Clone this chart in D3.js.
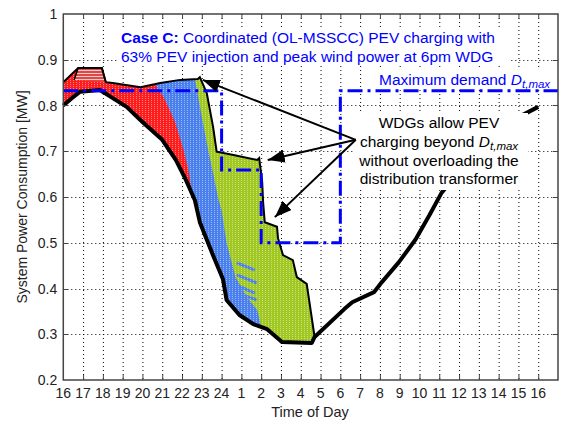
<!DOCTYPE html>
<html>
<head>
<meta charset="utf-8">
<script src="https://cdn.jsdelivr.net/npm/d3@7"></script>
<style>
  body { margin:0; background:#fff; }
  svg { display:block; font-family:"Liberation Sans", Arial, sans-serif; }
</style>
</head>
<body>
<div id="view"></div>
<script>
// hour index 0..24 -> clock label
var hourLabels = [16,17,18,19,20,21,22,23,24,1,2,3,4,5,6,7,8,9,10,11,12,13,14,15,16];
var mwTicks = [0.2,0.3,0.4,0.5,0.6,0.7,0.8,0.9,1];

// base load (no PEV), [hour, MW]
var baseLoad = [[0,0.800],[0.4,0.815],[0.85,0.830],[1.85,0.834],[2.36,0.820],[3.2,0.797],[4.0,0.764],
  [5.0,0.725],[5.7,0.680],[6.2,0.637],[6.65,0.593],[6.9,0.545],[7.56,0.473],[8.07,0.420],[8.25,0.375],
  [8.9,0.342],[9.6,0.322],[10.3,0.311],[10.95,0.287],[11.05,0.283],[12.56,0.281],[12.7,0.294],
  [14.2,0.355],[14.6,0.370],[15.7,0.392],[16.1,0.414],[16.95,0.457],[17.8,0.507],[18.5,0.560],
  [19.1,0.608],[20,0.655],[21,0.700],[22,0.740],[23.2,0.779],[24,0.797]];

// total load incl. PEV charging (upper envelope)
var totalLoad = [[0,0.851],[0.75,0.882],[1.95,0.882],[2.15,0.851],[2.5,0.849],[3.9,0.840],[4.9,0.849],
  [5.9,0.856],[6.8,0.858],[6.9,0.862],[7.25,0.827],[7.57,0.753],[7.75,0.699],[8.6,0.692],[9.8,0.681],
  [9.9,0.685],[10.05,0.633],[10.1,0.587],[10.18,0.545],[10.8,0.535],[10.85,0.510],[11.1,0.473],
  [11.6,0.462],[11.8,0.425],[12.3,0.410],[12.7,0.294]];

// low-priority top block (hours 16:45-18:00)
var hatBlock = [[0.55,0.856],[0.75,0.882],[1.95,0.882],[2.15,0.851]];

// right edge of red (high priority) and blue (medium priority) charging
var redEdge = [[4.6,0.849],[5.1,0.816],[5.65,0.764],[6.05,0.707],[6.3,0.663],[6.45,0.625]];
var blueEdge = [[6.65,0.858],[6.8,0.823],[7.05,0.764],[7.3,0.707],[7.57,0.652],[7.85,0.593],
  [8.0,0.571],[8.25,0.500],[8.7,0.425],[9.3,0.380],[9.8,0.353],[10.0,0.316]];
// blue charging streaks inside the green block
var blueStreaks = [
  [[8.77,0.456],[9.68,0.440]],
  [[8.77,0.430],[9.78,0.412]],
  [[8.52,0.412],[9.68,0.390]],
  [[8.77,0.390],[9.78,0.375]]
];

// maximum demand D_t,max (step)
var dMax = [[0,0.832],[8,0.832],[8,0.659],[10,0.659],[10,0.5],[14,0.5],[14,0.832],[25,0.832]];

// annotation arrows: from box corner to three points
var arrowFrom = [14.78, 0.725];
var arrowTo = [[7.05,0.856],[10.33,0.681],[10.69,0.556]];

var W = 564, H = 423;
var L = 63.3, R = 558, T = 14, B = 380;

var x = d3.scaleLinear().domain([0,25]).range([L,R]);
var y = d3.scaleLinear().domain([0.2,1.0]).range([B,T]);

var svg = d3.select("#view").append("svg").attr("width",W).attr("height",H);
var defs = svg.append("defs");

// texture from many stacked vehicles
var pat = defs.append("pattern").attr("id","dots").attr("patternUnits","userSpaceOnUse")
  .attr("width",3).attr("height",2);
pat.append("rect").attr("x",1).attr("y",0).attr("width",1).attr("height",1).attr("fill","#fff").attr("opacity",0.45);
var stripes = defs.append("pattern").attr("id","stripes").attr("patternUnits","userSpaceOnUse")
  .attr("width",4).attr("height",3);
stripes.append("rect").attr("width",4).attr("height",3).attr("fill","#e04848");
stripes.append("rect").attr("y",1).attr("width",4).attr("height",1).attr("fill","#fff").attr("opacity",0.7);

defs.append("marker").attr("id","head").attr("markerUnits","userSpaceOnUse")
  .attr("viewBox","0 0 17 13").attr("refX",17).attr("refY",6.5)
  .attr("markerWidth",17).attr("markerHeight",13).attr("orient","auto")
  .append("path").attr("d","M0,0L17,6.5L0,13Z").attr("fill","#000");

var line = d3.line().x(function(d){ return x(d[0]); }).y(function(d){ return y(d[1]); });

// region left of an edge curve (used as clip)
function leftOf(edge) {
  var d0 = x.domain(), v0 = y.domain();
  var pts = [[edge[0][0], v0[1]]].concat(edge, [[edge[edge.length-1][0], v0[0]], [d0[0], v0[0]], [d0[0], v0[1]]]);
  return line(pts) + "Z";
}

defs.append("clipPath").attr("id","clipRed").append("path").attr("d", leftOf(redEdge));
defs.append("clipPath").attr("id","clipBlue").append("path").attr("d", leftOf(blueEdge));

// grid
var grid = svg.append("g").attr("stroke","#000").attr("stroke-width",1).attr("stroke-dasharray","1,3");
grid.selectAll("line.v").data(d3.range(1,25)).enter().append("line")
  .attr("x1",function(d){ return x(d)+0.5; }).attr("x2",function(d){ return x(d)+0.5; })
  .attr("y1",T).attr("y2",B);
grid.selectAll("line.h").data(mwTicks.slice(1,-1)).enter().append("line")
  .attr("y1",function(d){ return Math.round(y(d))+0.5; }).attr("y2",function(d){ return Math.round(y(d))+0.5; })
  .attr("x1",L).attr("x2",R);

// stacked PEV charging areas
var envelope = line(totalLoad.concat(baseLoad.filter(function(p){ return p[0] < 12.7; }).reverse())) + "Z";
svg.append("path").attr("d",envelope).attr("fill","#a0c820");
svg.append("path").attr("d",envelope).attr("fill","#4a7fee").attr("clip-path","url(#clipBlue)");
svg.append("path").attr("d",envelope).attr("fill","#ff1c1c").attr("clip-path","url(#clipRed)");
svg.selectAll("path.streak").data(blueStreaks).enter().append("path")
  .attr("d",line).attr("fill","none").attr("stroke","#4a7fee").attr("stroke-width",3);
svg.append("path").attr("d",envelope).attr("fill","url(#dots)");
svg.append("path").attr("d",line(hatBlock)+"Z").attr("fill","url(#stripes)");

svg.append("path").attr("d",line(totalLoad)).attr("fill","none").attr("stroke","#000").attr("stroke-width",2);
svg.append("path").attr("d",line(hatBlock)).attr("fill","none").attr("stroke","#000").attr("stroke-width",1.5);
svg.append("path").attr("d",line(baseLoad)).attr("fill","none").attr("stroke","#000")
  .attr("stroke-width",4).attr("stroke-linejoin","round");

// maximum demand
svg.append("path").attr("d",line(dMax)).attr("fill","none").attr("stroke","#0000ff")
  .attr("stroke-width",3).attr("stroke-dasharray","15,5,3,5");

// white backgrounds for annotations
svg.append("rect").attr("x",118).attr("y",27).attr("width",393).attr("height",38).attr("fill","#fff");
svg.append("rect").attr("x",376).attr("y",70).attr("width",181).attr("height",17).attr("fill","#fff");
svg.append("rect").attr("x",355).attr("y",113).attr("width",173).attr("height",77).attr("fill","#fff");

var FS = 15.5;
// title text
var t1 = svg.append("text").attr("x",121).attr("y",43).attr("fill","#0000ff").attr("font-size",FS);
t1.append("tspan").attr("font-weight","bold").text("Case C:");
t1.append("tspan").text(" Coordinated (OL-MSSCC) PEV charging with");
svg.append("text").attr("x",121).attr("y",62).attr("fill","#0000ff").attr("font-size",FS)
  .text("63% PEV injection and peak wind power at 6pm WDG");

var md = svg.append("text").attr("x",379).attr("y",85).attr("fill","#0000ff").attr("font-size",FS);
md.append("tspan").text("Maximum demand ");
md.append("tspan").attr("font-style","italic").text("D");
md.append("tspan").attr("font-style","italic").attr("font-size",11.5).attr("dy",3).text("t,max");

var box = svg.append("g").attr("font-size",FS).attr("fill","#000").attr("text-anchor","middle");
box.append("text").attr("x",439).attr("y",128).text("WDGs allow PEV");
var cb = box.append("text").attr("x",439).attr("y",147);
cb.append("tspan").text("charging beyond ");
cb.append("tspan").attr("font-style","italic").text("D");
cb.append("tspan").attr("font-style","italic").attr("font-size",11.5).attr("dy",3).text("t,max");
box.append("text").attr("x",439).attr("y",166).text("without overloading the");
box.append("text").attr("x",439).attr("y",184).text("distribution transformer");

// arrows
svg.selectAll("line.arrow").data(arrowTo).enter().append("line")
  .attr("x1",x(arrowFrom[0])).attr("y1",y(arrowFrom[1]))
  .attr("x2",function(d){ return x(d[0]); }).attr("y2",function(d){ return y(d[1]); })
  .attr("stroke","#000").attr("stroke-width",2).attr("marker-end","url(#head)");

// frame and inward ticks
svg.append("rect").attr("x",L).attr("y",T).attr("width",R-L).attr("height",B-T)
  .attr("fill","none").attr("stroke","#444").attr("stroke-width",1.5);
var tk = svg.append("g").attr("stroke","#444").attr("stroke-width",1);
d3.range(1,25).forEach(function(h){
  tk.append("line").attr("x1",x(h)+0.5).attr("x2",x(h)+0.5).attr("y1",B).attr("y2",B-5);
  tk.append("line").attr("x1",x(h)+0.5).attr("x2",x(h)+0.5).attr("y1",T).attr("y2",T+5);
});
mwTicks.slice(1,-1).forEach(function(v){
  tk.append("line").attr("y1",Math.round(y(v))+0.5).attr("y2",Math.round(y(v))+0.5).attr("x1",L).attr("x2",L+5);
  tk.append("line").attr("y1",Math.round(y(v))+0.5).attr("y2",Math.round(y(v))+0.5).attr("x1",R).attr("x2",R-5);
});

// tick labels
svg.append("g").attr("font-size",14).attr("text-anchor","middle").attr("fill","#222")
  .selectAll("text").data(hourLabels).enter().append("text")
  .attr("x",function(d,i){ return x(i); }).attr("y",398).text(function(d){ return d; });
svg.append("g").attr("font-size",14).attr("text-anchor","end").attr("fill","#222")
  .selectAll("text").data(mwTicks).enter().append("text")
  .attr("x",L-6).attr("y",function(d){ return y(d)+5; }).text(function(d){ return d3.format("")(d); });

// axis titles
svg.append("text").attr("x",310).attr("y",417).attr("text-anchor","middle").attr("font-size",14.5)
  .attr("fill","#222").text("Time of Day");
svg.append("text").attr("transform","translate(27,"+((T+B)/2)+") rotate(-90)").attr("text-anchor","middle")
  .attr("font-size",14).attr("fill","#222").text("System Power Consumption [MW]");
</script>
</body>
</html>
